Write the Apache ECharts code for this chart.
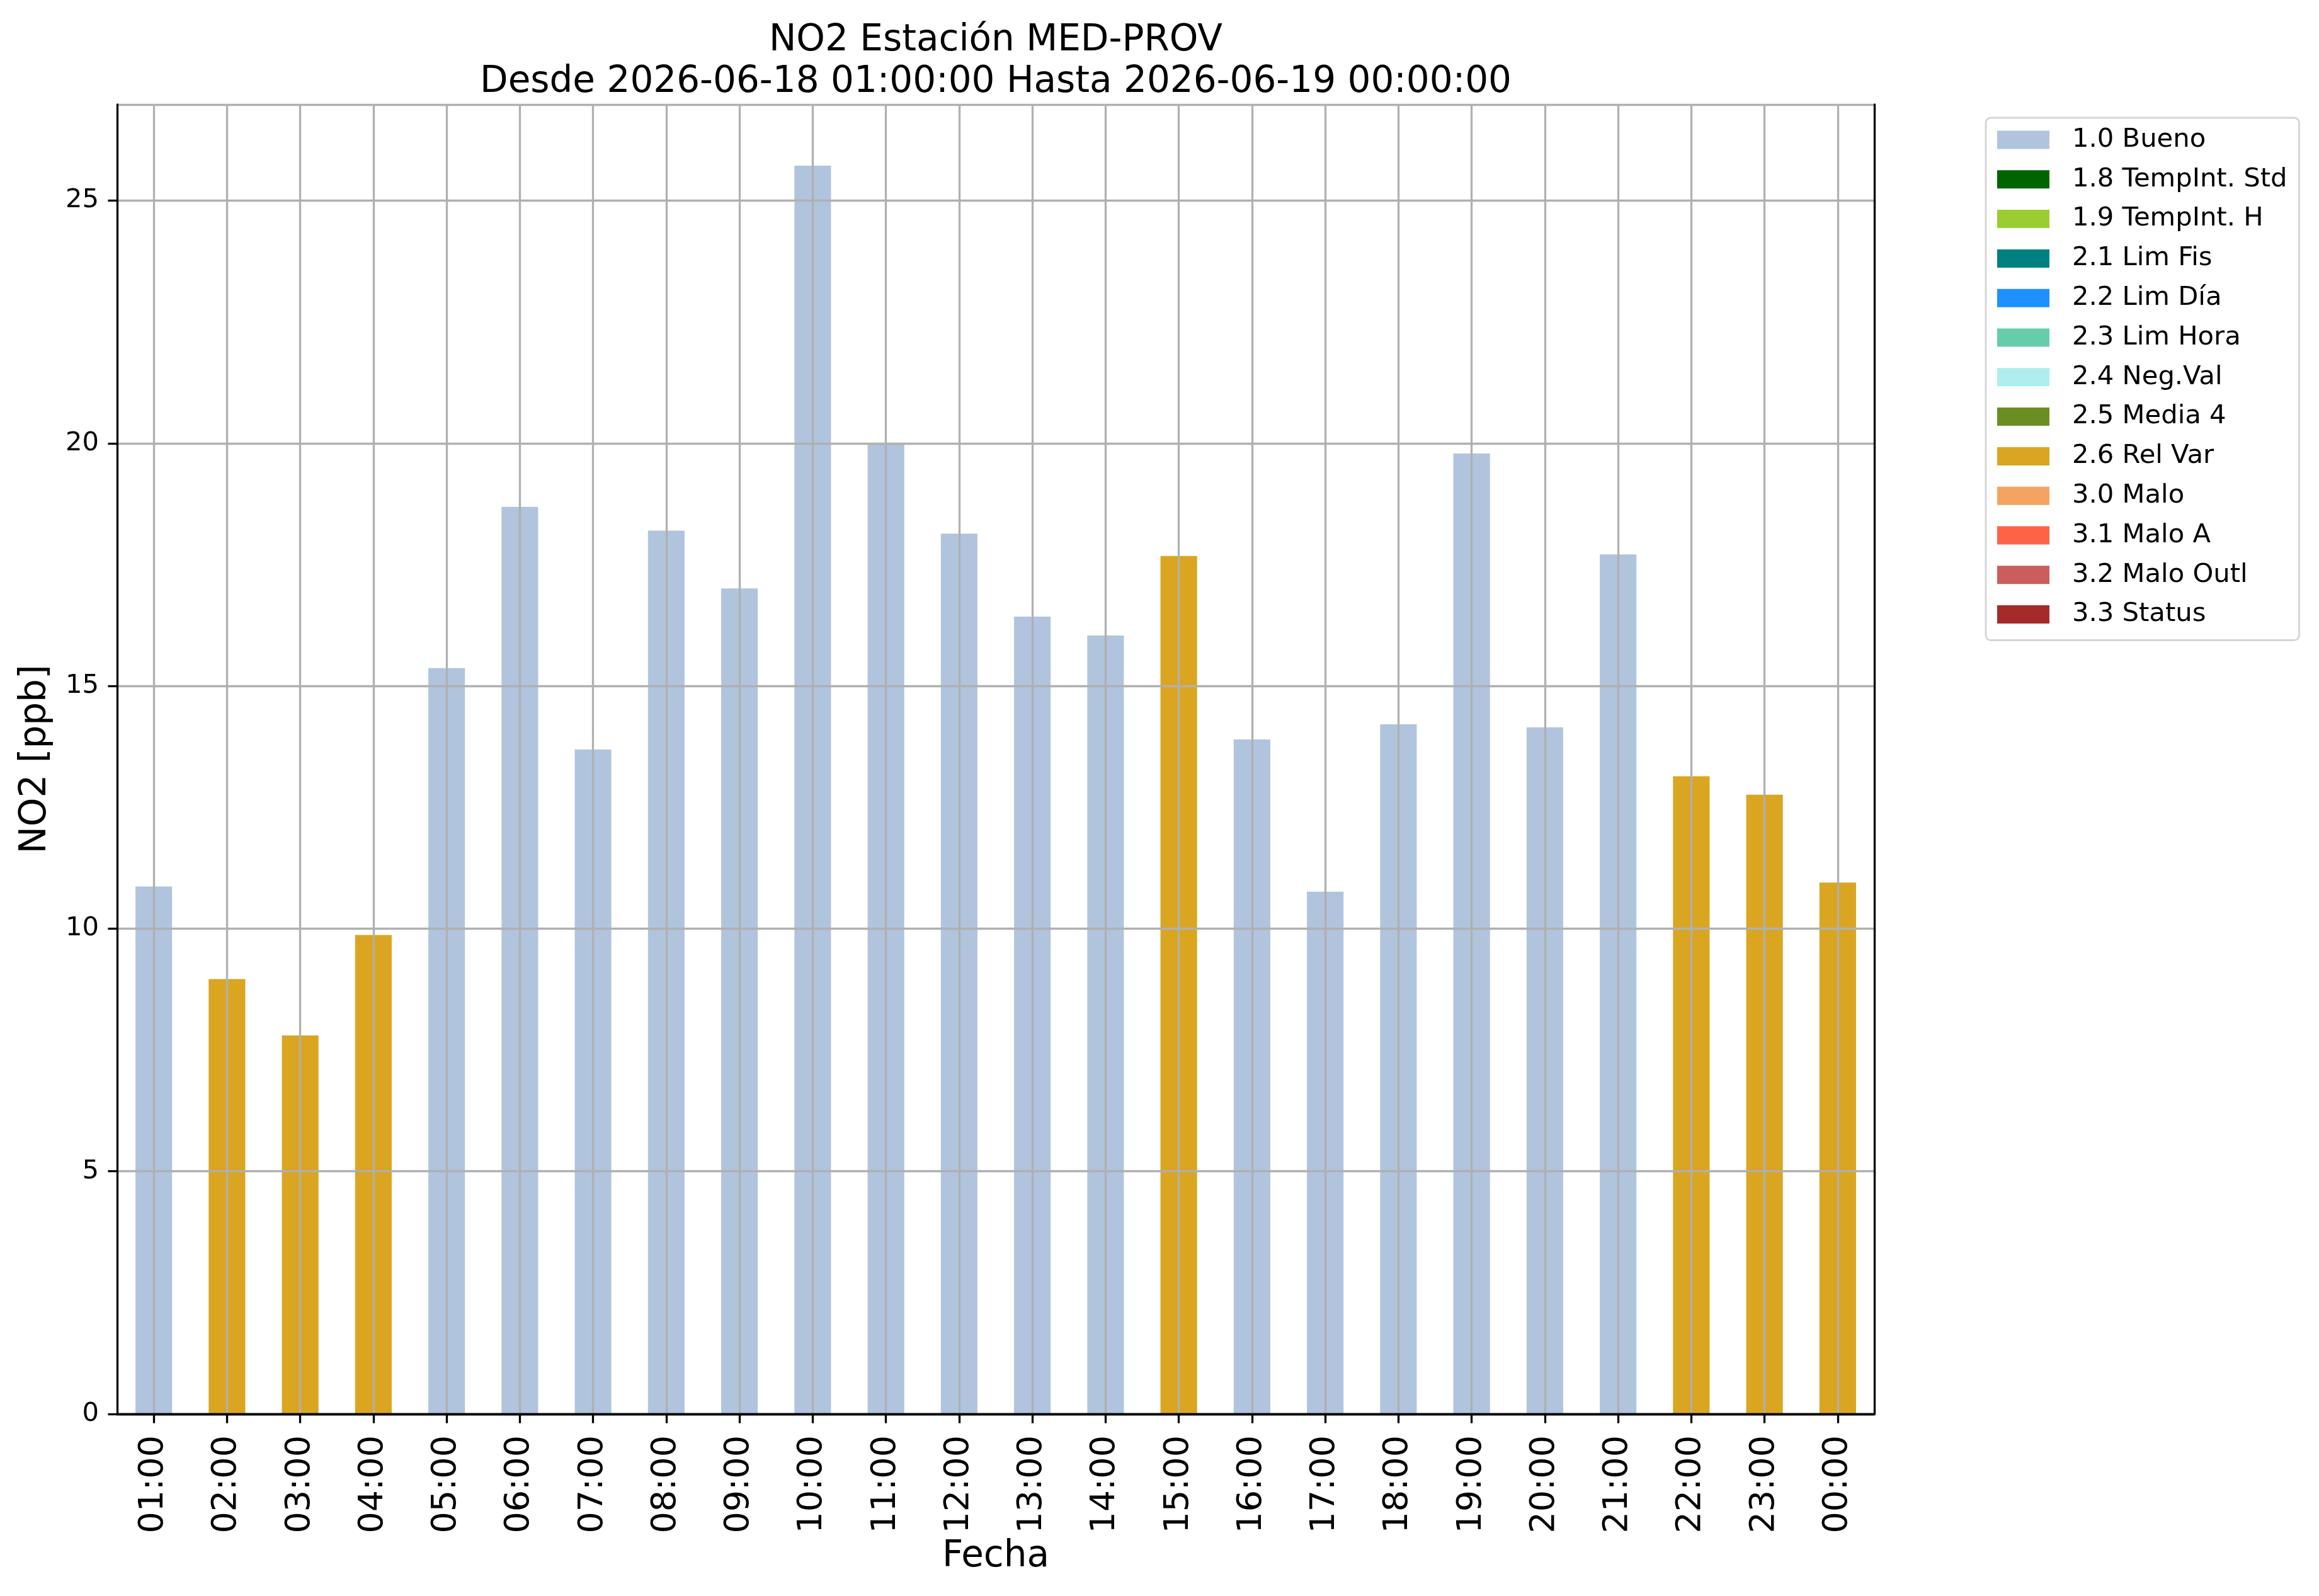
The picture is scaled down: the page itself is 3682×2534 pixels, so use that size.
<!DOCTYPE html>
<html>
<head>
<meta charset="utf-8">
<script src="https://cdn.jsdelivr.net/npm/echarts@6/dist/echarts.min.js"></script>
<style>
html, body { margin: 0; padding: 0; background: #fff; }
#main { width: 3682px; height: 2534px; }
</style>
</head>
<body>
<div id="main"></div>
<script>
// datos
var horas = ['01:00', '02:00', '03:00', '04:00', '05:00', '06:00', '07:00', '08:00',
    '09:00', '10:00', '11:00', '12:00', '13:00', '14:00', '15:00', '16:00',
    '17:00', '18:00', '19:00', '20:00', '21:00', '22:00', '23:00', '00:00'];
var valores = [10.87, 8.96, 7.80, 9.87, 15.37, 18.69, 13.69, 18.20,
    17.01, 25.72, 20.0, 18.14, 16.43, 16.04, 17.68, 13.90,
    10.76, 14.21, 19.79, 14.15, 17.71, 13.14, 12.76, 10.95];
var banderas = ['1.0 Bueno', '2.6 Rel Var', '2.6 Rel Var', '2.6 Rel Var', '1.0 Bueno', '1.0 Bueno', '1.0 Bueno', '1.0 Bueno',
    '1.0 Bueno', '1.0 Bueno', '1.0 Bueno', '1.0 Bueno', '1.0 Bueno', '1.0 Bueno', '2.6 Rel Var', '1.0 Bueno',
    '1.0 Bueno', '1.0 Bueno', '1.0 Bueno', '1.0 Bueno', '1.0 Bueno', '2.6 Rel Var', '2.6 Rel Var', '2.6 Rel Var'];
var categorias = ['1.0 Bueno', '1.8 TempInt. Std', '1.9 TempInt. H', '2.1 Lim Fis', '2.2 Lim Día',
    '2.3 Lim Hora', '2.4 Neg.Val', '2.5 Media 4', '2.6 Rel Var', '3.0 Malo',
    '3.1 Malo A', '3.2 Malo Outl', '3.3 Status'];
var colores = ['#B0C4DE', '#006400', '#9ACD32', '#008080', '#1E90FF',
    '#66CDAA', '#AFEEEE', '#6B8E23', '#DAA520', '#F4A460',
    '#FF6347', '#CD5C5C', '#A52A2A'];
var yTicks = [0, 5, 10, 15, 20, 25];
var yMax = 26.98;

var fuente = 'DejaVu Sans';
var lw = 3.3;

var myChart = echarts.init(document.getElementById('main'));

var series = categorias.map(function (nombre, i) {
    return {
        name: nombre,
        type: 'bar',
        stack: 'total',
        barWidth: '50%',
        itemStyle: { color: colores[i] },
        data: valores.map(function (v, j) {
            return banderas[j] === nombre ? v : null;
        })
    };
});

var option = {
    backgroundColor: '#fff',
    animation: false,
    textStyle: { fontFamily: fuente, color: '#000' },
    title: {
        text: 'NO2 Estación MED-PROV\nDesde 2026-06-18 01:00:00 Hasta 2026-06-19 00:00:00',
        left: 1581,
        top: 32,
        textAlign: 'center',
        padding: 0,
        textStyle: { fontFamily: fuente, fontSize: 58, fontWeight: 'normal', color: '#000', lineHeight: 66 }
    },
    legend: {
        orient: 'vertical',
        left: 3153,
        top: 187,
        padding: [14, 19, 20, 18],
        borderColor: '#d6d6d6',
        borderWidth: 3,
        borderRadius: 8,
        backgroundColor: '#fff',
        icon: 'rect',
        itemWidth: 83,
        itemHeight: 29,
        itemGap: 20.8,
        selectedMode: false,
        data: categorias,
        textStyle: { fontFamily: fuente, fontSize: 41.7, color: '#000', lineHeight: 40, padding: [0, 0, 0, 31] }
    },
    grid: {
        left: 186,
        right: 706,
        top: 166,
        bottom: 289,
        containLabel: false
    },
    xAxis: [{
        type: 'category',
        data: horas,
        boundaryGap: true,
        z: 3,
        name: 'Fecha',
        nameLocation: 'middle',
        nameGap: 196,
        nameTextStyle: { fontFamily: fuente, fontSize: 58, color: '#000' },
        axisLine: { show: true, lineStyle: { color: '#000', width: lw } },
        axisTick: { show: true, alignWithLabel: true, inside: false, length: 14.6, lineStyle: { color: '#000', width: lw } },
        axisLabel: { rotate: 90, margin: 34, fontFamily: fuente, fontSize: 54, color: '#000', interval: 0 },
        splitLine: { show: true, alignWithLabel: true, interval: 0, lineStyle: { color: '#b0b0b0', width: lw } }
    }, {
        type: 'category',
        data: horas,
        position: 'top',
        z: 4,
        axisLine: { show: true, lineStyle: { color: '#000', width: lw } },
        axisTick: { show: false },
        axisLabel: { show: false },
        splitLine: { show: false }
    }],
    yAxis: [{
        type: 'value',
        min: 0,
        max: yMax,
        interval: 5,
        z: 3,
        name: 'NO2 [ppb]',
        nameLocation: 'middle',
        nameGap: 100,
        nameTextStyle: { fontFamily: fuente, fontSize: 58, color: '#000' },
        axisLine: { show: true, lineStyle: { color: '#000', width: lw } },
        axisTick: { show: true, inside: false, length: 14.6, lineStyle: { color: '#000', width: lw } },
        axisLabel: {
            margin: 29, fontFamily: fuente, fontSize: 41.7, color: '#000', showMaxLabel: false,
            formatter: function (v) { return yTicks.indexOf(v) > -1 ? String(v) : ''; }
        },
        splitLine: { show: true, lineStyle: { color: '#b0b0b0', width: lw } }
    }, {
        type: 'value',
        min: 0,
        max: yMax,
        interval: 5,
        position: 'right',
        z: 4,
        axisLine: { show: true, lineStyle: { color: '#000', width: lw } },
        axisTick: { show: false },
        axisLabel: { show: false },
        splitLine: { show: false }
    }],
    series: series
};

myChart.setOption(option);
</script>
</body>
</html>
